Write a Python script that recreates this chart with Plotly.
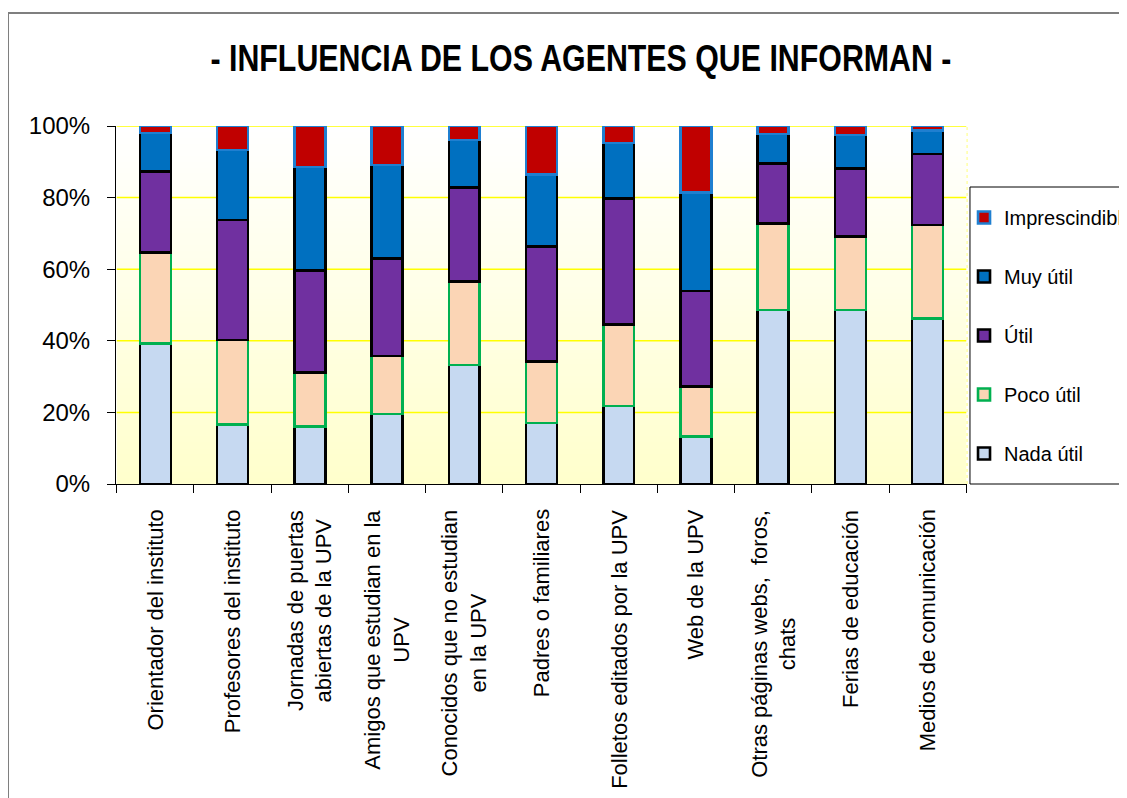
import plotly.graph_objects as go

categories = [
    "Orientador del instituto",
    "Profesores del instituto",
    "Jornadas de puertas<br>abiertas de la UPV",
    "Amigos que estudian en la<br>UPV",
    "Conocidos que no estudian<br>en la UPV",
    "Padres o familiares",
    "Folletos editados por la UPV",
    "Web de la UPV",
    "Otras páginas webs,  foros,<br>chats",
    "Ferias de educación",
    "Medios de comunicación",
]

nada_util = [39.3, 16.7, 16.0, 19.5, 33.2, 17.0, 21.8, 13.2, 48.6, 48.6, 46.3]
poco_util = [25.4, 23.5, 15.2, 16.3, 23.3, 17.2, 22.8, 14.0, 24.2, 20.5, 26.0]
util = [22.6, 33.5, 28.4, 27.2, 26.3, 32.1, 35.2, 26.7, 16.8, 19.1, 19.9]
muy_util = [10.8, 19.6, 29.0, 26.1, 13.3, 20.2, 15.5, 27.6, 8.2, 9.3, 6.5]
imprescindible = [1.9, 6.7, 11.4, 10.9, 3.9, 13.5, 4.7, 18.5, 2.2, 2.5, 1.3]

y_tick_vals = [0, 20, 40, 60, 80, 100]
y_tick_text = ["0%", "20%", "40%", "60%", "80%", "100%"]

title_text = "- INFLUENCIA DE LOS AGENTES QUE INFORMAN -"

series = [
    ("Nada útil", nada_util, "#C6D9F1", "#000000", 5),
    ("Poco útil", poco_util, "#FBD5B5", "#00B050", 4),
    ("Útil", util, "#7030A0", "#000000", 3),
    ("Muy útil", muy_util, "#0070C0", "#000000", 2),
    ("Imprescindible", imprescindible, "#C00000", "#1F7FD0", 1),
]

fig = go.Figure()
for name, vals, fill, line, rank in series:
    fig.add_trace(go.Bar(
        x=categories, y=vals, name=name, legendgroup=name, legendrank=rank,
        marker=dict(color=fill, line=dict(color=line, width=2.6)),
        width=0.4,
    ))

n_cat = len(categories)
shapes = []
# Gradient background (white at top to light yellow at bottom)
n = 60
for i in range(n):
    t = i / (n - 1)
    b = int(round(0xCC + (0xFF - 0xCC) * t))
    shapes.append(dict(type="rect", xref="x", yref="y",
                       x0=-0.5, x1=n_cat - 0.5, y0=100 * i / n, y1=100 * (i + 1) / n + 0.3,
                       fillcolor=f"rgb(255,255,{b})", line=dict(width=0),
                       layer="below"))
# yellow gridlines at the y ticks (drawn over the gradient)
for v in y_tick_vals[1:]:
    shapes.append(dict(type="line", xref="x", yref="y", x0=-0.5, x1=n_cat - 0.5,
                       y0=v, y1=v, line=dict(color="#FFFF00", width=1.5),
                       layer="below"))
# dashed right border of plot area
shapes.append(dict(type="line", xref="paper", yref="paper", x0=1, x1=1, y0=0, y1=1,
                   line=dict(color="#FFFF66", width=1, dash="dot"), layer="below"))
# outer chart border
shapes.append(dict(type="rect", xref="paper", yref="paper",
                   x0=-0.1269, x1=1.5, y0=-1.0, y1=1.3156,
                   line=dict(color="#7F7F7F", width=2), fillcolor="rgba(0,0,0,0)",
                   layer="below"))
# legend box
shapes.append(dict(type="rect", xref="paper", yref="paper",
                   x0=1.0035, x1=1.5, y0=0, y1=0.8296,
                   line=dict(color="black", width=1), fillcolor="white",
                   layer="above"))

# category labels, rotated and centred line by line
annotations = []
for c in categories:
    annotations.append(dict(x=c, xref="x", y=-0.066, yref="paper",
                            text=c, textangle=-90, showarrow=False,
                            xanchor="center", yanchor="top", align="center",
                            font=dict(size=22, color="black")))

fig.update_layout(
    width=1119, height=790,
    margin=dict(l=108, r=160, t=118, b=314, autoexpand=False),
    paper_bgcolor="white", plot_bgcolor="white",
    barmode="stack",
    font=dict(family="Liberation Sans, Arial, sans-serif", color="black"),
    title=dict(text=title_text, x=0.512, xref="container", xanchor="center",
               y=0.936, yref="container", yanchor="middle",
               font=dict(family="Liberation Sans, Arial", size=37, color="black",
                         weight="bold")),
    xaxis=dict(type="category", showline=True, linecolor="black", linewidth=1,
               ticks="outside", ticklen=8, tickcolor="black", tickson="boundaries",
               showticklabels=False, showgrid=False),
    yaxis=dict(range=[0, 100], tickvals=y_tick_vals, ticktext=y_tick_text,
               showline=True, linecolor="black", linewidth=1, ticks="outside",
               ticklen=8, tickcolor="black", showgrid=False,
               tickfont=dict(size=24), zeroline=False,
               ticklabelstandoff=12),
    legend=dict(x=0.9965, xanchor="left", y=0.7989, yanchor="top",
                traceorder="grouped", tracegroupgap=30,
                borderwidth=0, bgcolor="rgba(0,0,0,0)",
                font=dict(size=20)),
    shapes=shapes,
    annotations=annotations,
)

post = """
var t = document.querySelector('.gtitle');
if (t) {
  var x = parseFloat(t.getAttribute('x'));
  t.setAttribute('transform', 'translate(' + x + ',0) scale(0.82,1) translate(' + (-x) + ',0)');
}
"""

fig.write_html("out.html", post_script=post)
